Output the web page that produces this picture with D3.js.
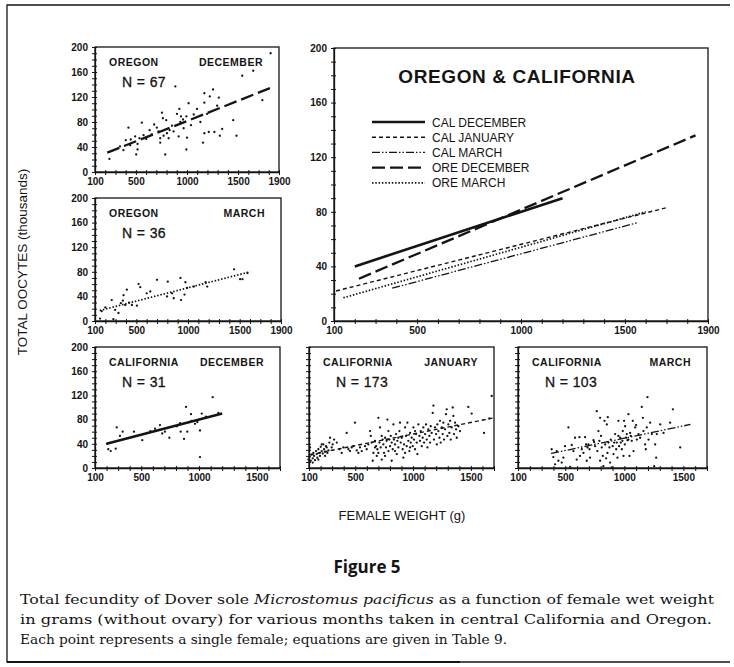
<!DOCTYPE html>
<html>
<head>
<meta charset="utf-8">
<script src="https://cdn.jsdelivr.net/npm/d3@7"></script>
<style>
  body { margin: 0; background: #fff; }
  svg { display: block; }
</style>
</head>
<body>
<svg id="chart" width="734" height="667"></svg>
<script>
// Female weight (g) vs total oocytes (thousands)
var oreDecPts = [[241,21],[427,71],[558,79],[378,35],[401,51],[450,52],[493,57],[516,36],[503,28],[444,43],[516,45],[601,53],[656,60],[705,71],[722,65],[738,54],[738,47],[755,95],[764,86],[771,58],[797,83],[787,28],[804,62],[830,67],[853,74],[886,137],[902,93],[925,101],[941,89],[961,84],[918,57],[994,89],[1016,110],[1000,55],[994,36],[967,70],[1098,101],[1157,47],[1170,62],[1170,126],[1170,111],[1213,64],[1223,121],[1255,132],[1268,64],[1311,119],[1321,58],[1344,69],[1452,83],[1484,58],[1540,154],[1648,162],[1737,115],[1818,190],[345,41],[535,54],[575,59],[634,67],[679,76],[820,54],[869,65],[935,80],[1039,75],[1066,92],[1131,80],[1196,93],[1295,106]];

var oreMarPts = [[149,4],[165,16],[262,34],[278,3],[295,18],[327,13],[350,29],[369,33],[376,42],[392,26],[408,51],[457,26],[505,25],[522,60],[538,55],[635,48],[700,67],[797,40],[804,64],[846,45],[862,37],[927,70],[933,34],[966,43],[975,63],[992,54],[1057,56],[1170,63],[1186,56],[1446,84],[1504,68],[1527,68],[1576,78],[200,22],[430,30],[600,45]];

var calDecPts = [[215,31],[236,28],[279,32],[288,67],[316,53],[339,60],[437,60],[509,46],[619,65],[662,71],[682,57],[705,60],[743,50],[835,74],[841,60],[870,48],[887,101],[898,60],[930,89],[936,78],[965,73],[985,76],[1008,62],[1008,18],[1023,90],[1118,117],[1167,91],[579,61],[808,69],[1060,85],[205,40]];

var calJanPts = [[95,14],[103,18],[115,12],[123,22],[132,16],[138,25],[144,20],[152,13],[161,28],[167,23],[172,17],[181,31],[190,25],[195,20],[201,35],[210,28],[219,24],[224,39],[230,31],[239,27],[247,36],[253,34],[268,29],[276,42],[296,34],
  [282,50],[317,47],[363,31],[397,34],[426,58],[455,28],[484,36],[498,75],[513,29],[541,34],
  [585,36],[613,39],[628,61],[634,53],[642,42],[657,25],[671,45],[680,36],[686,20],[691,31],
  [700,83],[709,42],[714,67],[720,34],[729,14],[737,47],[743,39],[749,25],[758,50],[766,34],
  [772,45],[778,80],[787,28],[795,47],[801,36],[807,53],[815,42],[824,31],[830,72],[835,47],
  [844,39],[853,56],[859,23],[864,45],[873,34],[882,61],[887,75],[893,42],[902,50],[910,31],
  [916,17],[922,39],[931,67],[939,53],[945,36],[951,75],[959,45],[968,28],[974,58],[980,42],
  [988,50],[997,36],[1003,67],[1008,47],[1017,31],[1026,56],[1032,42],[1037,23],[1046,72],[1055,53],
  [1060,45],[1066,61],[1075,36],[1083,50],[1089,67],[1095,42],[1104,56],[1112,72],[1118,47],[1124,34],
  [1132,64],[1141,53],[1147,42],[1153,69],[1161,58],[1170,91],[1176,103],[1181,47],[1190,67],[1199,56],
  [1205,39],[1210,72],[1219,61],[1228,50],[1233,78],[1239,42],[1248,67],[1256,56],[1262,75],[1268,47],
  [1277,64],[1285,89],[1291,97],[1297,53],[1305,72],[1314,58],[1320,78],[1326,47],[1334,67],[1343,100],
  [1349,86],[1354,56],[1363,75],[1372,64],[1378,50],[1392,69],[1406,61],[1478,101],[1507,90],[1614,58],
  [1680,119],[1660,82],
  [109,34],[132,9],[181,14],[210,39],[239,20],[259,25],[305,39],[340,42],[383,25],[441,31],[469,34],[527,25],[556,28],
  [599,31],[651,12],[671,34],[700,25],[729,53],[758,20],[787,61],[815,12],[844,28],[873,50],[931,25],[974,34],[1017,61]];

var calMarPts = [[385,31],[399,18],[428,28],[442,12],[470,9],[498,36],[527,67],[541,2],[555,38],[597,14],
  [620,51],[625,20],[640,31],[668,51],[676,39],[688,34],[705,31],[739,46],[744,43],[767,94],
  [781,61],[795,83],[809,34],[795,12],[823,3],[832,78],[846,16],[852,72],[860,84],[866,42],
  [874,34],[880,9],[894,1],[908,23],[922,56],[936,42],[942,17],[950,53],[965,50],[979,31],
  [987,61],[993,20],[998,78],[1007,69],[1015,50],[1021,56],[1035,47],[1035,89],[1044,20],[1049,58],
  [1055,53],[1078,28],[1092,67],[1100,71],[1134,50],[1148,101],[1157,83],[1176,39],[1182,31],[1190,67],
  [1196,117],[1219,75],[1253,3],[1261,39],[1270,17],[1304,72],[1388,75],[1411,97],[1473,34],
  [569,28],[654,25],[696,39],[710,17],[753,36],[772,28],[789,45],[803,53],[818,20],[838,39],
  [857,25],[885,47],[902,36],[914,42],[931,31],[956,36],[970,42],[984,45],[1004,39],[1027,46],
  [1063,45],[1072,78],[1106,47],[1120,56],[1162,61],[1205,47],[1233,56],[1275,56],[1332,58],[414,6],
  [484,17],[583,50],[682,12],[950,78]];

// Fitted lines: [start, end] in (weight, oocytes)
var fitNames = ["CAL DECEMBER", "CAL JANUARY", "CAL MARCH", "ORE DECEMBER", "ORE MARCH"];
var fitX = [[200, 1200], [110, 1700], [380, 1560], [220, 1840], [145, 1600]];
var fitY = [[40, 90], [22, 83], [24, 72], [31, 136], [17, 80]];

var yMajor = [0, 40, 80, 120, 160, 200];
var xLabelsTop = [100, 500, 1000, 1500, 1900];
var xLabelsBottom = [100, 500, 1000, 1500];

// Styles
var ink = "#141414";
var sans = "'Liberation Sans', Arial, Helvetica, sans-serif";
var lineStyle = {
  "CAL DECEMBER": { dash: null, width: 2.6 },
  "CAL JANUARY": { dash: "4,3", width: 1.4 },
  "CAL MARCH": { dash: "8,2,1.5,2,1.5,2", width: 1.3 },
  "ORE DECEMBER": { dash: "13,5", width: 2.3 },
  "ORE MARCH": { dash: "1.5,1.8", width: 1.7 }
};

var svg = d3.select("#chart");

function fitLine(g, x, y, i) {
  var st = lineStyle[fitNames[i]];
  g.append("line")
    .attr("x1", x(fitX[i][0])).attr("y1", y(fitY[i][0]))
    .attr("x2", x(fitX[i][1])).attr("y2", y(fitY[i][1]))
    .attr("stroke", ink)
    .attr("stroke-width", st.width)
    .attr("stroke-dasharray", st.dash);
}

function panel(p) {
  var x = d3.scaleLinear().domain([100, p.xmax]).range([p.left, p.right]);
  var y = d3.scaleLinear().domain([0, 200]).range([p.bottom, p.top]);
  var g = svg.append("g");

  // box
  g.append("rect")
    .attr("x", p.left).attr("y", p.top)
    .attr("width", p.right - p.left).attr("height", p.bottom - p.top)
    .attr("fill", "none").attr("stroke", ink).attr("stroke-width", 1.3);

  // axes: minor ticks every 10 / 100
  var ya = g.append("g")
    .attr("transform", "translate(" + p.left + ",0)")
    .call(d3.axisLeft(y)
      .tickValues(d3.range(0, 201, 10))
      .tickSize(3).tickSizeOuter(0).tickPadding(4)
      .tickFormat(function(d) { return p.yLabels && yMajor.indexOf(d) >= 0 ? d : ""; }));
  var xa = g.append("g")
    .attr("transform", "translate(0," + p.bottom + ")")
    .call(d3.axisBottom(x)
      .tickValues(d3.range(100, p.xmax + 1, 100))
      .tickSize(3).tickSizeOuter(0).tickPadding(3)
      .tickFormat(function(d) { return p.xLabels.indexOf(d) >= 0 ? d : ""; }));
  ya.selectAll(".tick line").attr("x1", 2);
  xa.selectAll(".tick line").attr("y1", -2);
  [ya, xa].forEach(function(a) {
    a.select(".domain").attr("stroke", ink).attr("stroke-width", 1.3);
    a.selectAll(".tick line").attr("stroke", ink).attr("stroke-width", 1);
    a.selectAll("text")
      .attr("fill", ink)
      .style("font-family", sans)
      .style("font-size", "10px")
      .style("font-weight", "bold");
  });

  // points
  if (p.pts) {
    g.selectAll("circle")
      .data(p.pts)
      .join("circle")
      .attr("cx", function(d) { return x(d[0]); })
      .attr("cy", function(d) { return y(d[1]); })
      .attr("r", 1.15)
      .attr("fill", ink);
  }

  // regression lines
  p.fits.forEach(function(i) { fitLine(g, x, y, i); });

  // headers
  if (p.place) {
    [[p.place, p.left + 14, "start"], [p.month, p.right - 16, "end"]].forEach(function(h) {
      g.append("text")
        .attr("x", h[1]).attr("y", p.top + 19)
        .attr("text-anchor", h[2])
        .attr("fill", ink)
        .style("font-family", sans)
        .style("font-size", "10.5px")
        .style("font-weight", "bold")
        .style("letter-spacing", "0.5px")
        .text(h[0]);
    });
    g.append("text")
      .attr("x", p.left + 27).attr("y", p.top + 40)
      .attr("fill", ink)
      .style("font-family", sans)
      .style("font-size", "14px")
      .style("letter-spacing", "0.4px")
      .style("stroke", ink).style("stroke-width", 0.3)
      .text(p.n);
  }
  return { x: x, y: y, g: g };
}

panel({ left: 95, right: 279, top: 47, bottom: 172, xmax: 1900, yLabels: true, xLabels: xLabelsTop,
  pts: oreDecPts, fits: [3], place: "OREGON", month: "DECEMBER", n: "N = 67" });
panel({ left: 95, right: 281, top: 198, bottom: 321, xmax: 1900, yLabels: true, xLabels: xLabelsTop,
  pts: oreMarPts, fits: [4], place: "OREGON", month: "MARCH", n: "N = 36" });
panel({ left: 95, right: 280, top: 347, bottom: 468, xmax: 1700, yLabels: true, xLabels: xLabelsBottom,
  pts: calDecPts, fits: [0], place: "CALIFORNIA", month: "DECEMBER", n: "N = 31" });
panel({ left: 309, right: 494, top: 347, bottom: 468, xmax: 1700, yLabels: false, xLabels: xLabelsBottom,
  pts: calJanPts, fits: [1], place: "CALIFORNIA", month: "JANUARY", n: "N = 173" });
panel({ left: 518, right: 707, top: 347, bottom: 468, xmax: 1700, yLabels: false, xLabels: xLabelsBottom,
  pts: calMarPts, fits: [2], place: "CALIFORNIA", month: "MARCH", n: "N = 103" });

// combined panel
var big = panel({ left: 334, right: 708, top: 48, bottom: 321, xmax: 1900, yLabels: true, xLabels: xLabelsTop,
  pts: null, fits: [0, 1, 2, 3, 4] });

big.g.append("text")
  .attr("x", 517).attr("y", 83)
  .attr("text-anchor", "middle")
  .attr("fill", ink)
  .style("font-family", sans)
  .style("font-size", "19px")
  .style("font-weight", "bold")
  .style("letter-spacing", "0.6px")
  .text("OREGON & CALIFORNIA");

// legend
var legend = big.g.append("g").attr("transform", "translate(372,122)");
fitNames.forEach(function(name, i) {
  var st = lineStyle[name];
  var row = legend.append("g").attr("transform", "translate(0," + i * 15.2 + ")");
  row.append("line")
    .attr("x1", 0).attr("x2", 53)
    .attr("stroke", ink)
    .attr("stroke-width", st.width)
    .attr("stroke-dasharray", st.dash);
  row.append("text")
    .attr("x", 60).attr("y", 4.5)
    .attr("fill", ink)
    .style("font-family", sans)
    .style("font-size", "12px")
    .text(name);
});

// axis titles
svg.append("text")
  .attr("transform", "translate(27,262) rotate(-90)")
  .attr("text-anchor", "middle")
  .attr("fill", ink)
  .style("font-family", sans)
  .style("font-size", "13.5px")
  .text("TOTAL OOCYTES (thousands)");

svg.append("text")
  .attr("x", 402).attr("y", 520)
  .attr("text-anchor", "middle")
  .attr("fill", ink)
  .style("font-family", sans)
  .style("font-size", "13px")
  .text("FEMALE WEIGHT (g)");

// caption
svg.append("text")
  .attr("x", 367).attr("y", 573)
  .attr("text-anchor", "middle")
  .attr("fill", ink)
  .style("font-family", "'Open Sans', sans-serif")
  .style("font-size", "17px")
  .style("font-weight", "bold")
  .text("Figure 5");

var serif = "'DejaVu Serif', 'Liberation Serif', serif";
var cap1 = svg.append("text")
  .attr("x", 20).attr("y", 604)
  .attr("textLength", 694).attr("lengthAdjust", "spacingAndGlyphs")
  .attr("fill", ink)
  .style("font-family", serif).style("font-size", "13.5px");
cap1.append("tspan").text("Total fecundity of Dover sole ");
cap1.append("tspan").style("font-style", "italic").text("Microstomus pacificus");
cap1.append("tspan").text(" as a function of female wet weight");

svg.append("text")
  .attr("x", 20).attr("y", 624)
  .attr("textLength", 692).attr("lengthAdjust", "spacingAndGlyphs")
  .attr("fill", ink)
  .style("font-family", serif).style("font-size", "13.5px")
  .text("in grams (without ovary) for various months taken in central California and Oregon.");

svg.append("text")
  .attr("x", 20).attr("y", 644)
  .attr("textLength", 487).attr("lengthAdjust", "spacingAndGlyphs")
  .attr("fill", ink)
  .style("font-family", serif).style("font-size", "13.5px")
  .text("Each point represents a single female; equations are given in Table 9.");

// outer frame (left, top, bottom as in the scan)
svg.append("path")
  .attr("d", "M730,5 H7 V662 H730")
  .attr("fill", "none")
  .attr("stroke", ink)
  .attr("stroke-width", 1.3);
svg.append("line")
  .attr("x1", 7).attr("x2", 460).attr("y1", 662).attr("y2", 662)
  .attr("stroke", ink).attr("stroke-width", 2.2);
</script>
</body>
</html>
